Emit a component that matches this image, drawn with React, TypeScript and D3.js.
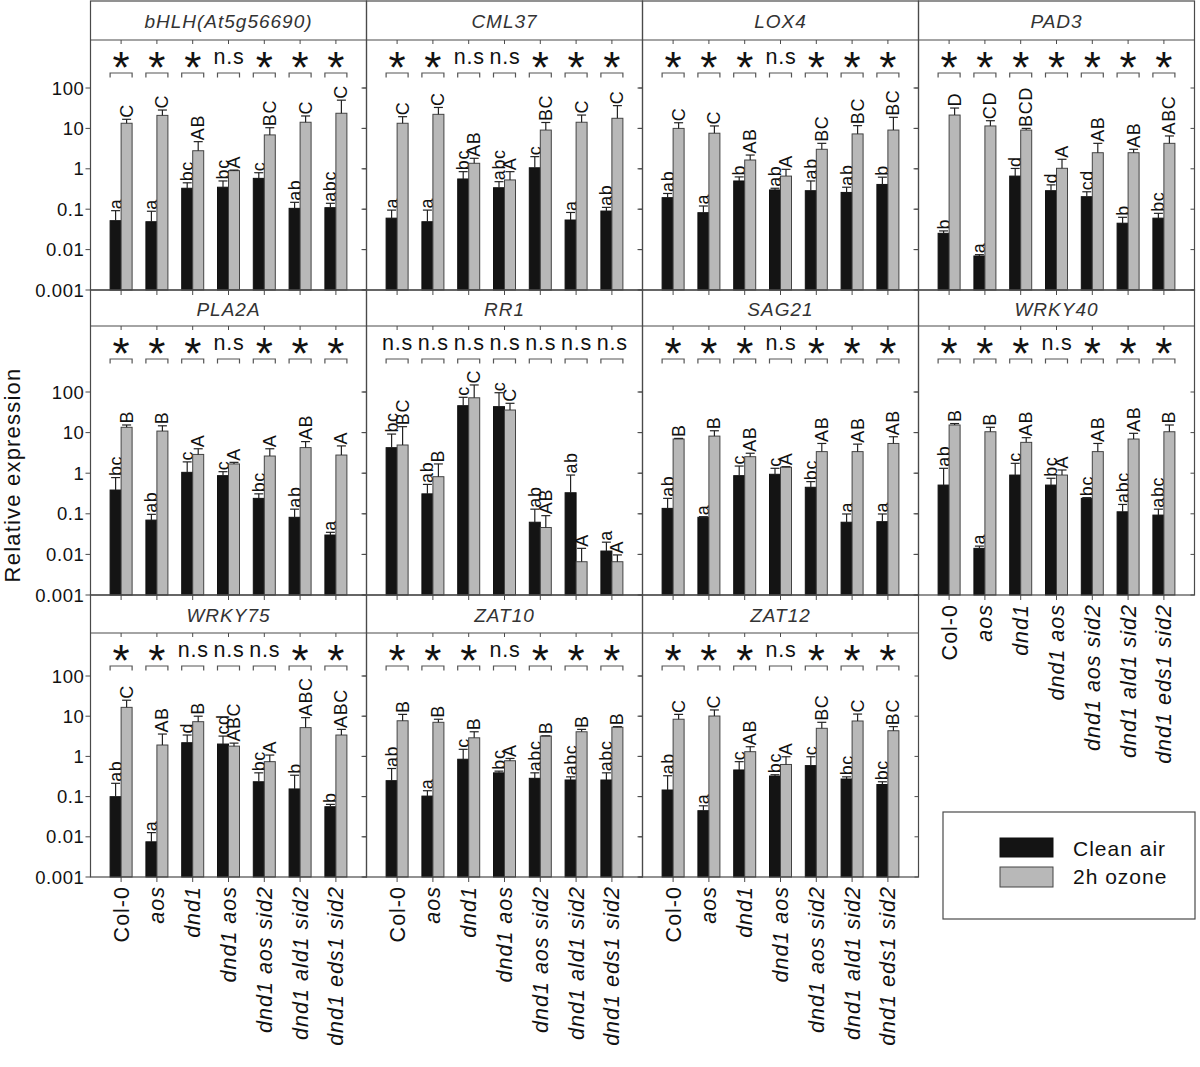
import React from "react";
import * as d3 from "d3";

const genotypes = ["Col-0", "aos", "dnd1", "dnd1 aos", "dnd1 aos sid2", "dnd1 ald1 sid2", "dnd1 eds1 sid2"];
const genes = ["bHLH(At5g56690)", "CML37", "LOX4", "PAD3", "PLA2A", "RR1", "SAG21", "WRKY40", "WRKY75", "ZAT10", "ZAT12"];
const seriesNames = ["Clean air", "2h ozone"];
const yTicks = [0.001, 0.01, 0.1, 1, 10, 100];
const yTickLabels = ["0.001", "0.01", "0.1", "1", "10", "100"];

const cleanAirMean = [
  [0.052, 0.049, 0.33, 0.35, 0.58, 0.105, 0.109],
  [0.06, 0.049, 0.56, 0.34, 1.06, 0.054, 0.09],
  [0.193, 0.082, 0.5, 0.3, 0.287, 0.26, 0.41],
  [0.0253, 0.00695, 0.66, 0.287, 0.204, 0.045, 0.06],
  [0.385, 0.07, 1.05, 0.87, 0.24, 0.082, 0.03],
  [4.25, 0.31, 46, 43.6, 0.062, 0.33, 0.0121],
  [0.136, 0.082, 0.87, 0.94, 0.45, 0.062, 0.064],
  [0.51, 0.0141, 0.9, 0.51, 0.24, 0.112, 0.093],
  [0.0995, 0.0075, 2.19, 2.03, 0.234, 0.155, 0.056],
  [0.249, 0.103, 0.85, 0.39, 0.285, 0.259, 0.259],
  [0.146, 0.0446, 0.46, 0.325, 0.59, 0.274, 0.2],
];
const cleanAirUpper = [
  [0.092, 0.089, 0.45, 0.5, 0.8, 0.148, 0.14],
  [0.095, 0.095, 0.85, 0.48, 2.0, 0.083, 0.111],
  [0.245, 0.12, 0.63, 0.33, 0.5, 0.35, 0.62],
  [0.029, 0.0075, 1.02, 0.4, 0.27, 0.063, 0.079],
  [0.78, 0.097, 1.9, 1.09, 0.31, 0.13, 0.035],
  [9.2, 0.53, 74, 96, 0.13, 0.9, 0.02],
  [0.24, 0.085, 1.5, 1.32, 0.62, 0.099, 0.099],
  [1.32, 0.016, 1.75, 0.75, 0.25, 0.17, 0.13],
  [0.214, 0.0127, 3.4, 3.2, 0.39, 0.34, 0.064],
  [0.5, 0.14, 1.5, 0.43, 0.39, 0.31, 0.39],
  [0.33, 0.059, 0.74, 0.35, 0.98, 0.31, 0.234],
];
const ozoneMean = [
  [13.4, 21, 2.8, 0.9, 6.9, 14.2, 23.7],
  [13.4, 22.3, 1.37, 0.53, 9.1, 14.2, 17.8],
  [10.0, 7.6, 1.65, 0.66, 3.04, 7.3, 9.1],
  [21.4, 11.5, 9.1, 1.03, 2.5, 2.5, 4.27],
  [13.5, 10.9, 2.9, 1.69, 2.65, 4.27, 2.8],
  [4.95, 0.82, 72, 36, 0.046, 0.0066, 0.0066],
  [6.95, 8.2, 2.55, 1.4, 3.4, 3.4, 5.4],
  [15.4, 10.5, 5.75, 0.9, 3.4, 6.95, 10.5],
  [16.6, 1.92, 7.3, 1.8, 0.74, 5.2, 3.4],
  [7.7, 7.05, 2.9, 0.78, 3.2, 4.1, 5.3],
  [8.4, 10.1, 1.31, 0.63, 5.0, 7.6, 4.35],
];
const ozoneUpper = [
  [16.8, 28.5, 4.7, 0.93, 10.4, 20.3, 50],
  [19.5, 33, 1.82, 0.85, 14, 21.4, 36.6],
  [13.8, 11.5, 2.19, 0.97, 4.27, 11.7, 18.8],
  [31.9, 15.5, 10, 1.72, 4.27, 3.04, 6.5],
  [15.4, 14.7, 4, 1.85, 4, 6.0, 4.7],
  [14, 1.69, 149, 52.7, 0.09, 0.0141, 0.0097],
  [7.2, 11.1, 3.1, 1.45, 5.4, 5.2, 7.9],
  [16.7, 13.5, 7.5, 1.2, 5.4, 9.6, 15.4],
  [25, 3.6, 10, 2.14, 1.08, 9.2, 4.7],
  [11.1, 8.4, 4.1, 0.89, 3.25, 4.7, 5.5],
  [11.1, 14.3, 1.74, 0.98, 7.05, 11.3, 5.5],
];
const cleanAirLetters = [
  ["a", "a", "bc", "bc", "c", "ab", "abc"],
  ["a", "a", "bc", "abc", "c", "a", "ab"],
  ["ab", "a", "b", "ab", "ab", "ab", "b"],
  ["b", "a", "d", "d", "cd", "b", "bc"],
  ["bc", "ab", "c", "c", "bc", "ab", "a"],
  ["bc", "ab", "c", "c", "ab", "ab", "a"],
  ["ab", "a", "c", "c", "bc", "a", "a"],
  ["ab", "a", "c", "bc", "bc", "abc", "abc"],
  ["ab", "a", "d", "cd", "bc", "b", "b"],
  ["ab", "a", "c", "bc", "abc", "abc", "abc"],
  ["ab", "a", "c", "bc", "c", "bc", "bc"],
];
const ozoneLetters = [
  ["C", "C", "AB", "A", "BC", "C", "C"],
  ["C", "C", "AB", "A", "BC", "C", "C"],
  ["C", "C", "AB", "A", "BC", "BC", "BC"],
  ["D", "CD", "BCD", "A", "AB", "AB", "ABC"],
  ["B", "B", "A", "A", "A", "AB", "A"],
  ["BC", "B", "C", "C", "AB", "A", "A"],
  ["B", "B", "AB", "A", "AB", "AB", "AB"],
  ["B", "B", "AB", "A", "AB", "AB", "B"],
  ["C", "AB", "B", "ABC", "A", "ABC", "ABC"],
  ["B", "B", "B", "A", "B", "B", "B"],
  ["C", "C", "AB", "A", "BC", "C", "BC"],
];
const significance = [
  ["*", "*", "*", "n.s", "*", "*", "*"],
  ["*", "*", "n.s", "n.s", "*", "*", "*"],
  ["*", "*", "*", "n.s", "*", "*", "*"],
  ["*", "*", "*", "*", "*", "*", "*"],
  ["*", "*", "*", "n.s", "*", "*", "*"],
  ["n.s", "n.s", "n.s", "n.s", "n.s", "n.s", "n.s"],
  ["*", "*", "*", "n.s", "*", "*", "*"],
  ["*", "*", "*", "n.s", "*", "*", "*"],
  ["*", "*", "n.s", "n.s", "n.s", "*", "*"],
  ["*", "*", "*", "n.s", "*", "*", "*"],
  ["*", "*", "*", "n.s", "*", "*", "*"],
];

const FONT = "'Liberation Sans', Arial, Helvetica, sans-serif";
const PANEL_W = 276;
const ROWS = [
  { top: 1, strip: 40, bottom: 290, y100: 88 },
  { top: 290, strip: 326, bottom: 595, y100: 392 },
  { top: 595, strip: 633, bottom: 877, y100: 676 },
];
const BORDER = "#4a4a4a";
const BLACK = "#141414";
const GRAY = "#b8b8b8";

function Panel({ gi }: { gi: number }) {
  const col = gi % 4;
  const row = Math.floor(gi / 4);
  const L = ROWS[row];
  const x0 = 90.5 + col * PANEL_W;
  const x = d3.scalePoint<string>().domain(genotypes).range([x0, x0 + PANEL_W]).padding(0.855);
  const xs = d3.scaleBand<string>().domain(seriesNames).range([-11, 11]);
  const y = d3.scaleLog().domain([0.001, 100]).range([L.bottom, L.y100]);
  const bw = xs.bandwidth();
  const bracketY = L.strip + 33;
  const hasXLabels = gi >= 7;
  const series = [
    { name: seriesNames[0], mean: cleanAirMean[gi], up: cleanAirUpper[gi], letters: cleanAirLetters[gi], fill: BLACK, stroke: "#111" },
    { name: seriesNames[1], mean: ozoneMean[gi], up: ozoneUpper[gi], letters: ozoneLetters[gi], fill: GRAY, stroke: "#444" },
  ];
  return (
    <g>
      {series.map((s) =>
        genotypes.map((g, i) => {
          const cx = (x(g) as number) + (xs(s.name) as number);
          const yt = y(s.mean[i]);
          const yu = y(s.up[i]);
          const c = cx + bw / 2;
          return (
            <g key={s.name + g}>
              <rect x={cx} y={yt} width={bw} height={L.bottom - yt} fill={s.fill} stroke={s.stroke} strokeWidth={1} />
              <line x1={c} x2={c} y1={yt} y2={yu} stroke="#222" strokeWidth={1.2} />
              <line x1={c - 4.5} x2={c + 4.5} y1={yu} y2={yu} stroke="#222" strokeWidth={1.2} />
              <text
                transform={`translate(${c + 6},${yu - 1.5}) rotate(-90)`}
                fontFamily={FONT}
                fontSize={18}
                letterSpacing={0.6}
                fill="#111"
              >
                {s.letters[i]}
              </text>
            </g>
          );
        })
      )}
      {genotypes.map((g, i) => {
        const c = x(g) as number;
        const sig = significance[gi][i];
        return (
          <g key={"sig" + g}>
            <path d={`M${c - 11},${bracketY + 4.5}V${bracketY}H${c + 11}V${bracketY + 4.5}`} fill="none" stroke="#555" strokeWidth={1.2} />
            {sig === "*" ? (
              <text x={c} y={bracketY + 10} textAnchor="middle" fontFamily={FONT} fontSize={44} fill="#111">*</text>
            ) : (
              <text x={c + 0.5} y={bracketY - 9} textAnchor="middle" fontFamily={FONT} fontSize={21.5} letterSpacing={0.8} fill="#111">n.s</text>
            )}
          </g>
        );
      })}
      <rect x={x0} y={L.top} width={PANEL_W} height={L.bottom - L.top} fill="none" stroke={BORDER} strokeWidth={1.2} />
      <line x1={x0} x2={x0 + PANEL_W} y1={L.strip} y2={L.strip} stroke={BORDER} strokeWidth={1.2} />
      <text
        x={x0 + PANEL_W / 2}
        y={(L.top + L.strip) / 2 + 7.5}
        textAnchor="middle"
        fontFamily={FONT}
        fontStyle="italic"
        fontSize={19}
        letterSpacing={1}
        fill="#333"
      >
        {genes[gi]}
      </text>
      {yTicks.map((t, k) => (
        <g key={"yt" + t}>
          <line x1={x0 - 5} x2={x0} y1={y(t)} y2={y(t)} stroke={BORDER} strokeWidth={1} />
          <line x1={x0 + PANEL_W - 4} x2={x0 + PANEL_W} y1={y(t)} y2={y(t)} stroke={BORDER} strokeWidth={1} />
          {col === 0 && (
            <text x={x0 - 6} y={y(t) + 6.5} textAnchor="end" fontFamily={FONT} fontSize={18.5} letterSpacing={0.6} fill="#111">
              {yTickLabels[k]}
            </text>
          )}
        </g>
      ))}
      {genotypes.map((g) => {
        const c = x(g) as number;
        return (
          <g key={"xt" + g}>
            <line x1={c} x2={c} y1={L.bottom} y2={L.bottom + 5} stroke={BORDER} strokeWidth={1} />
            <line x1={c} x2={c} y1={L.strip} y2={L.strip + 4} stroke={BORDER} strokeWidth={1} />
            {hasXLabels && (
              <text
                transform={`translate(${c + 7.5},${L.bottom + 9}) rotate(-90)`}
                textAnchor="end"
                fontFamily={FONT}
                fontSize={21.5}
                letterSpacing={1}
                fontStyle={g === "Col-0" ? "normal" : "italic"}
                fill="#111"
              >
                {g}
              </text>
            )}
          </g>
        );
      })}
    </g>
  );
}

export default function App() {
  return (
    <svg width={1200} height={1067} style={{ position: "absolute", left: 0, top: 0, background: "#fff" }}>
      <rect width={1200} height={1067} fill="#fff" />
      {genes.map((g, gi) => (
        <Panel key={g} gi={gi} />
      ))}
      <text
        transform="translate(20,475) rotate(-90)"
        textAnchor="middle"
        fontFamily={FONT}
        fontSize={22}
        letterSpacing={1.2}
        fill="#111"
      >
        Relative expression
      </text>
      <rect x={943} y={812} width={252} height={107} fill="#fff" stroke={BORDER} strokeWidth={1.2} />
      <rect x={1000} y={838} width={53} height={19} fill={BLACK} stroke="#111" />
      <rect x={1000} y={867} width={53} height={20} fill={GRAY} stroke="#444" />
      <text x={1073} y={856} fontFamily={FONT} fontSize={21} letterSpacing={1} fill="#111">{seriesNames[0]}</text>
      <text x={1073} y={884} fontFamily={FONT} fontSize={21} letterSpacing={1} fill="#111">{seriesNames[1]}</text>
    </svg>
  );
}
